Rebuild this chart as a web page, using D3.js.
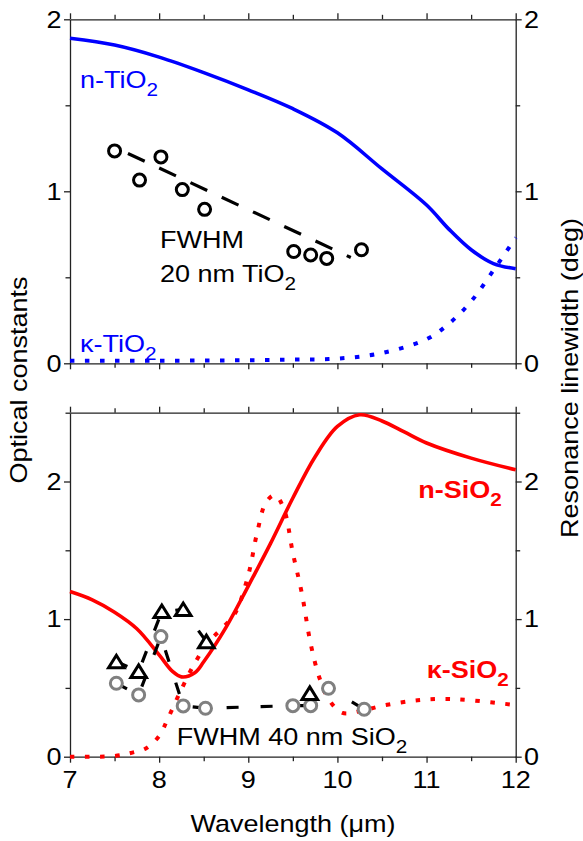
<!DOCTYPE html>
<html>
<head>
<meta charset="utf-8">
<script src="https://cdnjs.cloudflare.com/ajax/libs/d3/7.8.5/d3.min.js"></script>
<style>
  body { margin: 0; background: #fff; }
  svg text { font-family: "Liberation Sans", Arial, sans-serif; }
</style>
</head>
<body>
<div id="svg"></div>
<script>
// ---- data ----
// TiO2 optical constants
var wlTiO2 = [7, 7.5, 8, 8.5, 9, 9.5, 10, 10.5, 11, 11.25, 11.5, 11.75, 12];
var nTiO2  = [1.89, 1.85, 1.78, 1.69, 1.59, 1.48, 1.34, 1.13, 0.92, 0.78, 0.66, 0.58, 0.55];
var kTiO2  = [0.015, 0.015, 0.015, 0.016, 0.018, 0.022, 0.027, 0.06, 0.14, 0.23, 0.36, 0.54, 0.73];

// SiO2 optical constants
var wlNSiO2 = [7, 7.25, 7.5, 7.75, 8, 8.15, 8.25, 8.4, 8.5, 8.75, 9, 9.25, 9.5, 9.75, 10, 10.25, 10.5, 10.75, 11, 11.5, 12];
var nSiO2   = [1.20, 1.14, 1.05, 0.93, 0.74, 0.62, 0.58, 0.61, 0.69, 0.94, 1.24, 1.55, 1.88, 2.18, 2.40, 2.485, 2.44, 2.36, 2.28, 2.17, 2.085];
var wlKSiO2 = [7, 7.5, 7.7, 7.85, 8, 8.1, 8.25, 8.4, 8.55, 8.7, 8.85, 9, 9.1, 9.2, 9.3, 9.4, 9.5, 9.6, 9.7, 9.8, 9.9, 10.05, 10.25, 10.5, 10.9, 11.2, 11.5, 12];
var kSiO2   = [0, 0.005, 0.03, 0.06, 0.15, 0.28, 0.49, 0.68, 0.83, 0.93, 1.04, 1.32, 1.63, 1.85, 1.90, 1.80, 1.48, 1.19, 0.82, 0.57, 0.42, 0.32, 0.33, 0.37, 0.41, 0.42, 0.41, 0.375];

// FWHM, 20 nm TiO2 (circles) and its linear trend
var fwTiX = [7.50, 7.78, 8.02, 8.26, 8.51, 9.51, 9.70, 9.88, 10.27];
var fwTiY = [1.235, 1.065, 1.20, 1.01, 0.895, 0.65, 0.63, 0.61, 0.66];
var fitTiX = [7.65, 10.15];
var fitTiY = [1.22, 0.615];

// FWHM, 40 nm SiO2 (triangles and grey circles)
var triX = [7.52, 7.77, 8.03, 8.27, 8.53];
var triY = [0.69, 0.62, 1.055, 1.07, 0.836];
var triLoneX = [9.69];
var triLoneY = [0.46];
var fwSiX = [7.52, 7.77, 8.02, 8.27, 8.52, 9.50, 9.70, 9.90, 10.30];
var fwSiY = [0.534, 0.449, 0.873, 0.369, 0.352, 0.371, 0.371, 0.497, 0.345];

// ticks
var xTicks = [7, 8, 9, 10, 11, 12];
var xMinor = [7.5, 8.5, 9.5, 10.5, 11.5];
var yTicksTop = [0, 1, 2];
var yMinorTop = [0.5, 1.5];
var yTicksBot = [0, 1, 2];
var yMinorBot = [0.5, 1.5, 2.5];

// ---- drawing ----
var svgContainer = d3.select("div#svg").append("svg")
	.attr("width", 583)
	.attr("height", 841);

var x = d3.scaleLinear().domain([7, 12]).range([70, 515.7]);
var yTop = d3.scaleLinear().domain([0, 2]).range([363.3, 19.3]);
var yBot = d3.scaleLinear().domain([0, 2.5]).range([756.7, 412.7]);

var SX = 1.15;          // the figure's lettering is wider than Arial
var axisColor = "#222";
var BLUE = "#0000ff", RED = "#ff0000", GREY = "#808080";

// text with optional subscripts, parts = ["n-TiO", ["2"]]
function txt(px, py, parts, o) {
	o = o || {};
	var t = svgContainer.append("text")
		.attr("transform", "translate(" + px + "," + py + ")" + (o.rot ? " rotate(" + o.rot + ")" : "") + " scale(" + SX + ",1)")
		.attr("font-size", o.size || 23.5)
		.attr("fill", o.color || "#000")
		.attr("font-weight", o.bold ? "bold" : "normal")
		.attr("text-anchor", o.anchor || "start");
	var shift = 0;
	parts.forEach(function(p) {
		if (typeof p === "string") {
			t.append("tspan").attr("dy", -shift).text(p);
			shift = 0;
		} else {
			t.append("tspan").attr("dy", 8 - shift).attr("font-size", 18).text(p[0]);
			shift = 8;
		}
	});
	return t;
}

function isMajor(d) { return Math.abs(d - Math.round(d)) < 1e-6; }

function frame(y, yMaj, yMin) {
	var g = svgContainer.append("g");
	var xt = xTicks.concat(xMinor), yt = yMaj.concat(yMin);
	var y0 = y.range()[0], y1 = y.range()[1];

	g.append("g").attr("transform", "translate(0," + y0 + ")")
		.call(d3.axisBottom(x).tickValues(xt).tickSizeOuter(0).tickFormat(""))
		.selectAll(".tick line").attr("y2", function(d) { return isMajor(d) ? 6 : 4.5; });
	g.append("g").attr("transform", "translate(0," + y1 + ")")
		.call(d3.axisTop(x).tickValues(xt).tickSizeOuter(0).tickFormat(""))
		.selectAll(".tick line").attr("y2", function(d) { return isMajor(d) ? -6 : -4.5; });
	g.append("g").attr("transform", "translate(" + x(7) + ",0)")
		.call(d3.axisLeft(y).tickValues(yt).tickSizeOuter(0).tickFormat(""))
		.selectAll(".tick line").attr("x2", function(d) { return isMajor(d) ? -6 : -4.5; });
	g.append("g").attr("transform", "translate(" + x(12) + ",0)")
		.call(d3.axisRight(y).tickValues(yt).tickSizeOuter(0).tickFormat(""))
		.selectAll(".tick line").attr("x2", function(d) { return isMajor(d) ? 6 : 4.5; });

	g.selectAll(".tick line").attr("stroke", axisColor).attr("stroke-width", 1.3);
	g.selectAll(".domain").attr("stroke", axisColor).attr("stroke-width", 1.3);

	// tick labels, left and right
	yMaj.forEach(function(v) {
		txt(61.5, y(v) + 8.3, [String(v)], { anchor: "end" });
		txt(524, y(v) + 8.3, [String(v)]);
	});
}

function curve(xs, ys, y, color, dotted) {
	var line = d3.line()
		.x(function(d) { return x(d[0]); })
		.y(function(d) { return y(d[1]); })
		.curve(d3.curveCatmullRom.alpha(0.5));
	var p = svgContainer.append("path")
		.datum(xs.map(function(v, i) { return [v, ys[i]]; }))
		.attr("d", line)
		.attr("fill", "none")
		.attr("stroke", color);
	if (dotted) p.attr("stroke-width", 4).attr("stroke-dasharray", "4.5,10.5");
	else p.attr("stroke-width", 3.6);
	return p;
}

function dashed(xs, ys, y, dash) {
	var line = d3.line()
		.x(function(d) { return x(d[0]); })
		.y(function(d) { return y(d[1]); });
	svgContainer.append("path")
		.datum(xs.map(function(v, i) { return [v, ys[i]]; }))
		.attr("d", line)
		.attr("fill", "none")
		.attr("stroke", "#000")
		.attr("stroke-width", 3.2)
		.attr("stroke-dasharray", dash);
}

function circles(xs, ys, y, color) {
	svgContainer.append("g").selectAll("circle")
		.data(xs.map(function(v, i) { return [v, ys[i]]; }))
		.enter().append("circle")
		.attr("cx", function(d) { return x(d[0]); })
		.attr("cy", function(d) { return y(d[1]); })
		.attr("r", 6)
		.attr("fill", "#fff")
		.attr("stroke", color)
		.attr("stroke-width", 3);
}

function triangles(xs, ys, y) {
	svgContainer.append("g").selectAll("path")
		.data(xs.map(function(v, i) { return [v, ys[i]]; }))
		.enter().append("path")
		.attr("d", "M0,-6.5L7.8,6L-7.8,6Z")
		.attr("transform", function(d) { return "translate(" + x(d[0]) + "," + y(d[1]) + ")"; })
		.attr("fill", "#fff")
		.attr("stroke", "#000")
		.attr("stroke-width", 3)
		.attr("stroke-linejoin", "miter");
}

// top panel: TiO2
frame(yTop, yTicksTop, yMinorTop);
curve(wlTiO2, nTiO2, yTop, BLUE, false);
curve(wlTiO2, kTiO2, yTop, BLUE, true);
dashed(fitTiX, fitTiY, yTop, "18.5,16");
circles(fwTiX, fwTiY, yTop, "#000");

txt(80, 88.3, ["n-TiO", ["2"]], { color: BLUE });
txt(80, 351.7, ["\u03ba-TiO", ["2"]], { color: BLUE });
txt(160, 248.3, ["FWHM"]);
txt(160, 281.7, ["20 nm TiO", ["2"]]);

// bottom panel: SiO2
frame(yBot, yTicksBot, yMinorBot);
curve(wlNSiO2, nSiO2, yBot, RED, false);
curve(wlKSiO2, kSiO2, yBot, RED, true);
dashed(fwSiX, fwSiY, yBot, "12,22");
dashed(triX, triY, yBot, "12,22");
circles(fwSiX, fwSiY, yBot, GREY);
triangles(triX, triY, yBot);
triangles(triLoneX, triLoneY, yBot);

txt(418.3, 498.3, ["n-SiO", ["2"]], { color: RED, bold: true });
txt(426.7, 678.3, ["\u03ba-SiO", ["2"]], { color: RED, bold: true });
txt(176.7, 745, ["FWHM 40 nm SiO", ["2"]]);

// x tick labels under the bottom panel
xTicks.forEach(function(v) {
	txt(x(v), 788.3, [String(v)], { anchor: "middle" });
});

// axis titles
txt(293, 832, ["Wavelength (\u03bcm)"], { anchor: "middle" });
txt(26.7, 380, ["Optical constants"], { anchor: "middle", rot: -90 });
txt(578, 378, ["Resonance linewidth (deg)"], { anchor: "middle", rot: -90 });
</script>
</body>
</html>
